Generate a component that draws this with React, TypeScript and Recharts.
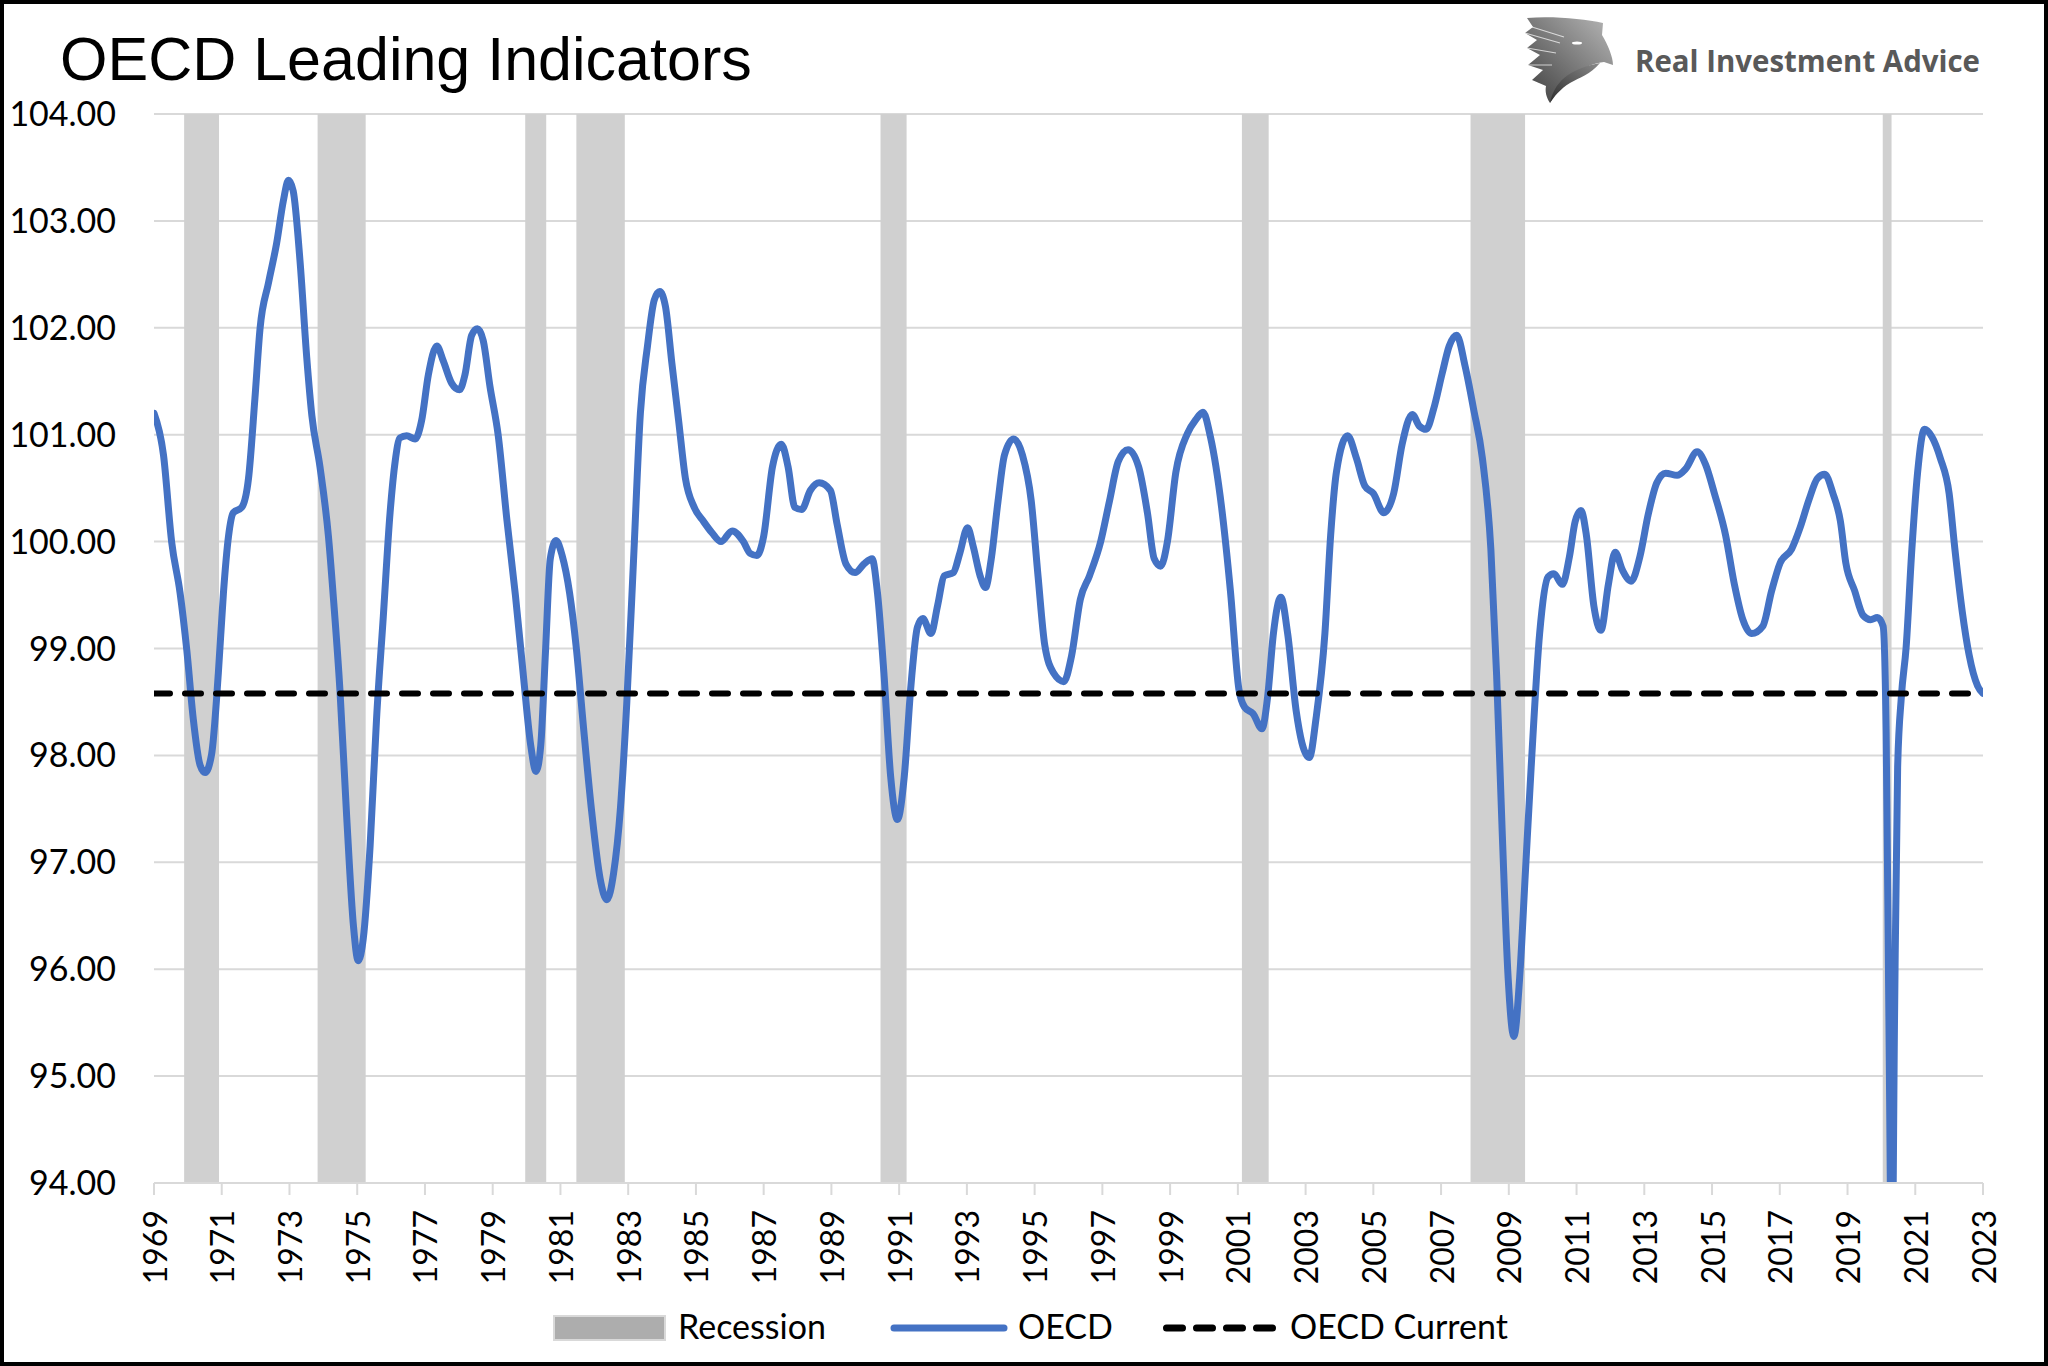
import React from "react";
import {
  ComposedChart,
  Line,
  XAxis,
  YAxis,
  CartesianGrid,
  ReferenceArea,
  Legend,
} from "recharts";

// ---------- DATA ----------
const years: number[] = [
  1969.0, 1969.28, 1969.52, 1969.77, 1969.97, 1970.16, 1970.36, 1970.51, 1970.7, 1970.9,
  1971.05, 1971.2, 1971.34, 1971.59, 1971.79, 1971.98, 1972.13, 1972.38, 1972.62, 1972.82,
  1972.97, 1973.11, 1973.31, 1973.51, 1973.66, 1973.9, 1974.15, 1974.3, 1974.49, 1974.69,
  1974.89, 1975.03, 1975.18, 1975.38, 1975.57, 1975.77, 1975.97, 1976.12, 1976.26, 1976.46,
  1976.71, 1976.9, 1977.1, 1977.35, 1977.54, 1977.79, 1978.02, 1978.18, 1978.38, 1978.55,
  1978.72, 1978.92, 1979.16, 1979.42, 1979.67, 1979.92, 1980.12, 1980.28, 1980.42, 1980.56,
  1980.7, 1980.87, 1981.05, 1981.27, 1981.47, 1981.67, 1981.92, 1982.17, 1982.37, 1982.57,
  1982.77, 1982.96, 1983.16, 1983.36, 1983.57, 1983.77, 1983.93, 1984.1, 1984.29, 1984.49,
  1984.69, 1984.95, 1985.22, 1985.48, 1985.74, 1986.07, 1986.4, 1986.6, 1986.8, 1987.0,
  1987.26, 1987.52, 1987.72, 1987.92, 1988.12, 1988.38, 1988.64, 1988.97, 1989.17, 1989.43,
  1989.7, 1989.96, 1990.2, 1990.36, 1990.55, 1990.75, 1990.95, 1991.15, 1991.35, 1991.54,
  1991.7, 1991.94, 1992.14, 1992.33, 1992.6, 1992.79, 1993.02, 1993.19, 1993.39, 1993.55,
  1993.72, 1993.92, 1994.11, 1994.38, 1994.64, 1994.9, 1995.1, 1995.3, 1995.56, 1995.86,
  1996.09, 1996.35, 1996.62, 1996.95, 1997.21, 1997.47, 1997.76, 1998.07, 1998.33, 1998.53,
  1998.72, 1998.92, 1999.17, 1999.51, 1999.76, 1999.97, 2000.19, 2000.52, 2000.78, 2001.03,
  2001.2, 2001.45, 2001.71, 2001.88, 2002.05, 2002.27, 2002.47, 2002.72, 2002.89, 2003.11,
  2003.31, 2003.57, 2003.74, 2003.91, 2004.24, 2004.5, 2004.75, 2005.0, 2005.31, 2005.6,
  2005.85, 2006.15, 2006.36, 2006.56, 2006.78, 2007.03, 2007.24, 2007.46, 2007.71, 2007.96,
  2008.22, 2008.47, 2008.64, 2008.81, 2008.98, 2009.15, 2009.32, 2009.49, 2009.66, 2009.91,
  2010.16, 2010.33, 2010.58, 2010.79, 2010.96, 2011.13, 2011.29, 2011.51, 2011.72, 2011.94,
  2012.14, 2012.36, 2012.61, 2012.87, 2013.12, 2013.37, 2013.63, 2013.97, 2014.22, 2014.56,
  2014.81, 2015.07, 2015.4, 2015.66, 2015.91, 2016.17, 2016.5, 2016.76, 2017.01, 2017.35,
  2017.6, 2017.86, 2018.11, 2018.33, 2018.57, 2018.79, 2018.95, 2019.21, 2019.46, 2019.68,
  2019.88, 2020.05, 2020.14, 2020.22, 2020.31, 2020.39, 2020.48, 2020.59, 2020.73, 2020.9,
  2021.07, 2021.27, 2021.49, 2021.74, 2022.0, 2022.17, 2022.39, 2022.59, 2022.84, 2023.0,
];

const oecdValues: number[] = [
  101.2, 100.81, 100.0, 99.52, 98.98, 98.34, 97.91, 97.84, 98.01, 98.77,
  99.52, 100.05, 100.27, 100.32, 100.59, 101.34, 101.99, 102.42, 102.79, 103.19,
  103.38, 103.28, 102.63, 101.72, 101.18, 100.7, 100.05, 99.46, 98.61, 97.42,
  96.4, 96.08, 96.29, 97.15, 98.34, 99.3, 100.27, 100.75, 100.97, 100.99,
  100.96, 101.13, 101.56, 101.83, 101.69, 101.48, 101.42, 101.56, 101.93, 101.99,
  101.88, 101.45, 101.0, 100.2, 99.5, 98.7, 98.1, 97.85, 98.1, 98.98,
  99.84, 100.01, 99.87, 99.52, 99.0, 98.3, 97.48, 96.85, 96.65, 96.9,
  97.5, 98.5, 99.84, 101.2, 101.83, 102.26, 102.34, 102.2, 101.67, 101.13,
  100.59, 100.32, 100.19, 100.08, 100.0, 100.1, 100.0, 99.89, 99.87, 100.05,
  100.7, 100.91, 100.7, 100.32, 100.3, 100.48, 100.55, 100.48, 100.16, 99.79,
  99.71, 99.79, 99.84, 99.52, 98.77, 97.8, 97.4, 97.8, 98.66, 99.2,
  99.28, 99.14, 99.41, 99.68, 99.71, 99.89, 100.13, 99.95, 99.68, 99.57,
  99.84, 100.38, 100.81, 100.96, 100.81, 100.38, 99.68, 99.03, 98.77, 98.69,
  98.93, 99.46, 99.68, 100.0, 100.38, 100.75, 100.86, 100.7, 100.27, 99.84,
  99.77, 100.0, 100.65, 101.01, 101.14, 101.21, 100.98, 100.32, 99.54, 98.62,
  98.45, 98.39, 98.25, 98.55, 99.14, 99.48, 99.14, 98.42, 98.12, 97.98,
  98.35, 99.14, 100.06, 100.65, 100.99, 100.78, 100.52, 100.45, 100.27, 100.45,
  100.91, 101.19, 101.08, 101.05, 101.24, 101.57, 101.83, 101.93, 101.64, 101.24,
  100.78, 99.93, 98.75, 97.24, 95.92, 95.37, 95.92, 96.91, 97.89, 99.14,
  99.67, 99.7, 99.6, 99.86, 100.19, 100.29, 100.06, 99.4, 99.17, 99.6,
  99.9, 99.73, 99.63, 99.86, 100.26, 100.55, 100.64, 100.62, 100.68, 100.84,
  100.72, 100.45, 100.06, 99.6, 99.27, 99.14, 99.21, 99.54, 99.8, 99.93,
  100.13, 100.39, 100.59, 100.63, 100.45, 100.19, 99.8, 99.54, 99.31, 99.27,
  99.29, 99.21, 98.22, 95.6, 93.0, 95.6, 97.89, 98.55, 99.01, 99.93,
  100.65, 101.05, 100.98, 100.78, 100.45, 99.93, 99.34, 98.94, 98.65, 98.58,
];

const CURRENT_LEVEL = 98.58;
const currentYears: number[] = [1969, 2023];

const recessionStarts: number[] = [1969.89, 1973.83, 1979.96, 1981.47, 1990.45, 2001.12, 2007.87, 2020.04];
const recessionEnds: number[] = [1970.92, 1975.25, 1980.58, 1982.9, 1991.22, 2001.91, 2009.48, 2020.3];

const xTicks: number[] = [
  1969, 1971, 1973, 1975, 1977, 1979, 1981, 1983, 1985, 1987, 1989, 1991, 1993, 1995,
  1997, 1999, 2001, 2003, 2005, 2007, 2009, 2011, 2013, 2015, 2017, 2019, 2021, 2023,
];
const yTicks: number[] = [94, 95, 96, 97, 98, 99, 100, 101, 102, 103, 104];

const TITLE = "OECD Leading Indicators";
const BRAND = "Real Investment Advice";

// ---------- TABLES ----------
const oecdData = years.map((y, i) => ({ year: y, oecd: oecdValues[i] }));
const currentData = currentYears.map((y) => ({ year: y, current: CURRENT_LEVEL }));

const AXIS_FONT = "Lato, 'Open Sans', sans-serif";
const GRID = "#D9D9D9";
const BLUE = "#4472C4";

const XTick = (props: any) => {
  const { x, y, payload } = props;
  return (
    <text
      x={x}
      y={y}
      transform={`rotate(-90 ${x} ${y})`}
      textAnchor="end"
      dominantBaseline="central"
      fontFamily={AXIS_FONT}
      fontSize={32}
      fill="#000"
    >
      {payload.value}
    </text>
  );
};

const LegendContent = () => (
  <svg width={2048} height={76} style={{ display: "block" }}>
    <rect x={554} y={26} width={111} height={24} fill="#ADADAD" stroke="#D9D9D9" strokeWidth={2} />
    <text x={678} y={49} fontFamily={AXIS_FONT} fontSize={34} fill="#000">
      Recession
    </text>
    <line x1={894} y1={38} x2={1004} y2={38} stroke={BLUE} strokeWidth={7} strokeLinecap="round" />
    <text x={1018} y={49} fontFamily={AXIS_FONT} fontSize={34} fill="#000">
      OECD
    </text>
    <line
      x1={1166.5}
      y1={38}
      x2={1272.5}
      y2={38}
      stroke="#000"
      strokeWidth={7}
      strokeLinecap="round"
      strokeDasharray="16 14"
    />
    <text x={1290} y={49} fontFamily={AXIS_FONT} fontSize={34} fill="#000">
      OECD Current
    </text>
  </svg>
);

const Logo = () => (
  <g transform="translate(1524,17)">
    <defs>
      <linearGradient id="eagleGrad" x1="1" y1="0" x2="0" y2="1">
        <stop offset="0" stopColor="#b8b8b8" />
        <stop offset="0.5" stopColor="#7a7a7a" />
        <stop offset="1" stopColor="#3c3c3c" />
      </linearGradient>
      <linearGradient id="shieldGrad" x1="1" y1="0" x2="0" y2="1">
        <stop offset="0" stopColor="#8a8a8a" />
        <stop offset="1" stopColor="#2e2e2e" />
      </linearGradient>
    </defs>
    <path
      d="M3,1 C30,-1 60,2 79,6 L78,18 C84,28 89,40 89,48 L80,45 C62,47 40,60 26,86 C22,80 21,74 22,69 L8,63 L19,53 L4,48 L16,38 L3,31 L13,23 L1,16 L9,10 Z"
      fill="url(#eagleGrad)"
    />
    <path d="M26,86 C30,66 44,52 76,46 C66,58 56,60 46,66 C36,72 30,80 26,86 Z" fill="url(#shieldGrad)" />
    <ellipse cx={53} cy={26} rx={5} ry={1.5} fill="#fff" />
    <path d="M8,10 L40,20 M1,16 L36,26 M3,31 L32,36 M4,48 L28,48" stroke="#fff" strokeWidth={1.2} opacity={0.7} />
  </g>
);

export default function App() {
  return (
    <div
      style={{
        position: "fixed",
        left: 0,
        top: 0,
        width: 2048,
        height: 1366,
        background: "#fff",
        overflow: "hidden",
      }}
    >
      <ComposedChart
        width={2048}
        height={1366}
        data={oecdData}
        margin={{ top: 114, right: 65, bottom: 63, left: 0 }}
      >
        <CartesianGrid horizontal={true} vertical={false} stroke={GRID} strokeWidth={2} />
        <XAxis
          dataKey="year"
          type="number"
          domain={[1969, 2023]}
          ticks={xTicks}
          interval={0}
          height={120}
          axisLine={{ stroke: GRID, strokeWidth: 2 }}
          tickLine={{ stroke: GRID, strokeWidth: 2 }}
          tickSize={12}
          tickMargin={15}
          tick={<XTick />}
          allowDataOverflow
        />
        <YAxis
          type="number"
          domain={[94, 104]}
          ticks={yTicks}
          interval={0}
          width={154}
          allowDataOverflow
          axisLine={false}
          tickLine={false}
          tickSize={0}
          tickMargin={38}
          tickFormatter={(v: number) => v.toFixed(2)}
          tick={{ fontFamily: AXIS_FONT, fontSize: 34, fill: "#000" }}
        />
        {recessionStarts.map((s, i) => (
          <ReferenceArea
            key={"rec" + i}
            x1={s}
            x2={recessionEnds[i]}
            y1={94}
            y2={104}
            fill="#D0D0D0"
            fillOpacity={1}
            stroke="none"
          />
        ))}
        <Line
          dataKey="oecd"
          name="OECD"
          type="monotone"
          stroke={BLUE}
          strokeWidth={7}
          strokeLinecap="round"
          strokeLinejoin="round"
          dot={false}
          activeDot={false}
          isAnimationActive={false}
        />
        <Line
          data={currentData}
          dataKey="current"
          name="OECD Current"
          type="linear"
          stroke="#000"
          strokeWidth={6}
          strokeLinecap="round"
          strokeDasharray="16 15"
          dot={false}
          activeDot={false}
          isAnimationActive={false}
        />
        <Legend
          verticalAlign="middle"
          align="center"
          layout="horizontal"
          content={<LegendContent />}
          wrapperStyle={{ position: "absolute", left: 0, top: 1290, width: 2048, height: 76 }}
        />
      </ComposedChart>
      <svg
        width={2048}
        height={1366}
        style={{ position: "absolute", left: 0, top: 0, pointerEvents: "none" }}
      >
        <text
          x={60}
          y={80}
          fontFamily="'Liberation Sans', Arial, sans-serif"
          fontSize={61}
          fill="#000"
        >
          {TITLE}
        </text>
        <Logo />
        <text
          x={1635}
          y={72}
          fontFamily="'Open Sans', sans-serif"
          fontWeight={700}
          fontSize={30}
          fill="#595959"
          textLength={345}
          lengthAdjust="spacingAndGlyphs"
        >
          {BRAND}
        </text>
        <rect x={2} y={2} width={2044} height={1362} fill="none" stroke="#000" strokeWidth={4} />
      </svg>
    </div>
  );
}
